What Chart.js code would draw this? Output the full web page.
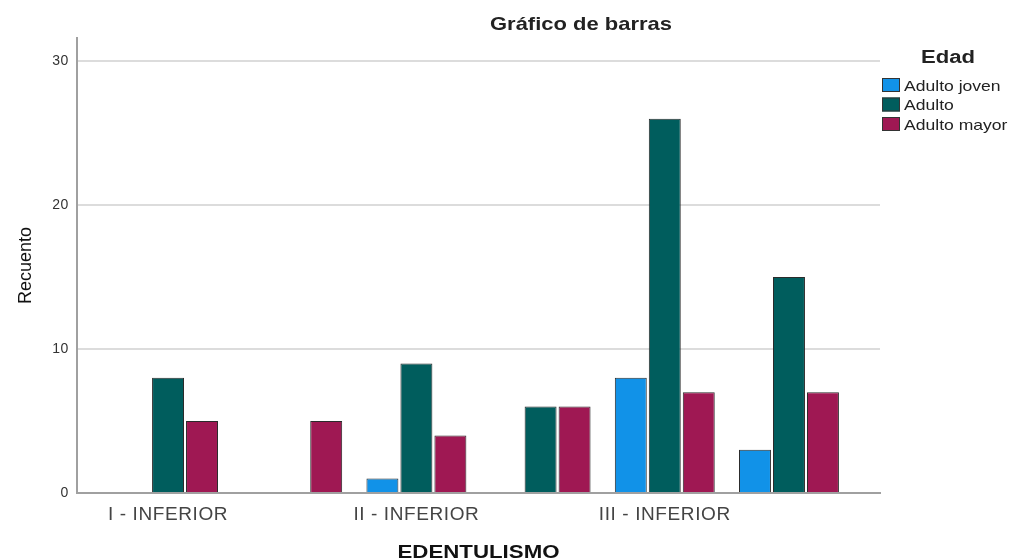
<!DOCTYPE html>
<html><head><meta charset="utf-8">
<script src="https://cdn.jsdelivr.net/npm/chart.js@4.4.1/dist/chart.umd.min.js"></script>
<style>html,body{margin:0;padding:0;background:#fff;overflow:hidden}canvas{display:block}</style>
</head><body>
<canvas id="c" width="1013" height="560"></canvas>
<script>
// ---- data ----
const categories = ['I - INFERIOR', 'I - SUPERIOR', 'II - INFERIOR', 'II - SUPERIOR', 'III - INFERIOR', 'III - SUPERIOR'];
const adultoJoven = [0, 0, 1, 0, 8, 3];
const adulto = [8, 0, 9, 6, 26, 15];
const adultoMayor = [5, 5, 4, 6, 7, 7];
const seriesNames = ['Adulto joven', 'Adulto', 'Adulto mayor'];
const yTicks = [0, 10, 20, 30];
const shownCategoryIdx = [0, 2, 4];
const chartTitle = 'Gráfico de barras';
const xTitle = 'EDENTULISMO';
const yTitle = 'Recuento';
const legendTitle = 'Edad';

const colors = ['#1192e8', '#005d5d', '#9f1853'];
const FONT = '"Liberation Sans", Arial, sans-serif';

function toPoints(arr) { return arr.map((v, i) => ({ x: i, y: v })); }

function drawText(ctx, text, x, y, font, color, align, targetWidth, scaleX) {
  ctx.save();
  ctx.letterSpacing = '0px';
  ctx.font = font; ctx.fillStyle = color; ctx.textBaseline = 'alphabetic';
  ctx.textAlign = 'left';
  const w = ctx.measureText(text).width;
  const sx = targetWidth ? targetWidth / w : (scaleX || 1);
  ctx.translate(x, y); ctx.scale(sx, 1);
  let dx = 0;
  if (align === 'center') dx = -w / 2; else if (align === 'right') dx = -w;
  ctx.fillText(text, dx, 0);
  ctx.restore();
}

const decor = {
  id: 'decor',
  beforeDraw(chart) {
    const ctx = chart.ctx;
    ctx.save();
    ctx.fillStyle = '#fff';
    ctx.fillRect(0, 0, chart.width, chart.height);
    ctx.restore();
    ctx.letterSpacing = '0.6px';
  },
  beforeDatasetsDraw(chart) { chart.ctx.letterSpacing = '0px'; },
  afterDraw(chart) {
    const ctx = chart.ctx;
    ctx.letterSpacing = '0px';
    const ca = chart.chartArea;
    // chart title
    drawText(ctx, chartTitle, 581, 30, 'bold 19px ' + FONT, '#222', 'center', 182);
    // x axis title
    drawText(ctx, xTitle, (ca.left + ca.right) / 2, 558, 'bold 18px ' + FONT, '#111', 'center', 162);
    // y axis title
    ctx.save();
    ctx.translate(31, (ca.top + ca.bottom) / 2);
    ctx.rotate(-Math.PI / 2);
    drawText(ctx, yTitle, 0, 0, '18px ' + FONT, '#111', 'center');
    ctx.restore();
    // legend
    drawText(ctx, legendTitle, 948, 63, 'bold 18px ' + FONT, '#222', 'center', 54);
    const boxTops = [78, 97.5, 117];
    seriesNames.forEach((name, i) => {
      const top = boxTops[i];
      ctx.save();
      ctx.fillStyle = colors[i];
      ctx.fillRect(882, top, 18, 14);
      ctx.strokeStyle = '#333';
      ctx.lineWidth = 1;
      ctx.strokeRect(882.5, top + 0.5, 17, 13);
      ctx.restore();
      drawText(ctx, name, 904, top + 12.5, '15px ' + FONT, '#222', 'left', null, 1.17);
    });
  }
};

new Chart(document.getElementById('c'), {
  type: 'bar',
  data: {
    datasets: [
      { label: seriesNames[0], data: toPoints(adultoJoven), backgroundColor: colors[0] },
      { label: seriesNames[1], data: toPoints(adulto), backgroundColor: colors[1] },
      { label: seriesNames[2], data: toPoints(adultoMayor), backgroundColor: colors[2] }
    ]
  },
  options: {
    responsive: false,
    animation: false,
    events: [],
    layout: { padding: { top: 38, right: 133, left: 0, bottom: 0 } },
    datasets: {
      bar: {
        borderColor: '#2b2b2b',
        borderWidth: 1,
        borderSkipped: 'start',
        inflateAmount: 0,
        categoryPercentage: 0.821,
        barPercentage: 0.94
      }
    },
    plugins: { legend: { display: false }, title: { display: false }, tooltip: { enabled: false } },
    scales: {
      x: {
        type: 'linear',
        min: -0.733,
        max: categories.length - 1 + 0.733,
        offset: false,
        afterBuildTicks(scale) { scale.ticks = shownCategoryIdx.map(v => ({ value: v })); },
        afterFit(scale) { scale.height = 67; },
        grid: { display: false, drawTicks: false },
        border: { display: true, color: '#a0a0a0', width: 2 },
        ticks: {
          autoSkip: false,
          maxRotation: 0,
          padding: 10,
          color: '#444',
          font: { family: FONT, size: 19 },
          callback: (v) => categories[v]
        }
      },
      y: {
        min: 0,
        max: 31.6,
        afterBuildTicks(scale) { scale.ticks = yTicks.map(v => ({ value: v })); },
        afterFit(scale) { scale.width = 77; },
        grid: { color: '#dcdcdc', lineWidth: 2, drawTicks: false },
        border: { display: true, color: '#a0a0a0', width: 2 },
        ticks: { padding: 8, color: '#333', font: { family: FONT, size: 14 } }
      }
    }
  },
  plugins: [decor]
});
</script>
</body></html>
